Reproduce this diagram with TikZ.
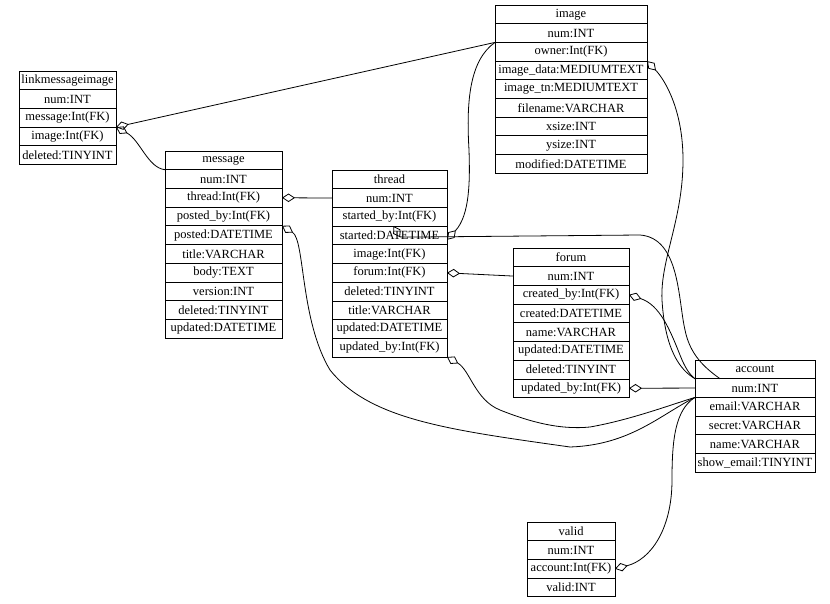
\documentclass[tikz,border=0pt]{standalone}
\usepackage{fontspec}
\setmainfont{Liberation Serif}
\usetikzlibrary{arrows.meta,positioning}

% one box per field, stacked under the title box
\newcommand{\dbtable}[5]{%
  \node[fld, minimum width=#3, anchor=north west] (#1-head) at #2 {#4};
  \foreach \key/\lbl [remember=\key as \prev (initially head)] in {#5} {
    \node[fld, minimum width=#3, below=0pt of #1-\prev] (#1-\key) {\lbl};
  }%
}

\begin{document}
\begin{tikzpicture}[x=1pt, y=-1pt, font=\fontsize{12.5}{14}\selectfont,
    fld/.style={rectangle, draw, line width=0.8pt, minimum height=18.7pt,
                inner sep=1pt, outer sep=0pt},
    fk/.style={line width=0.8pt, {Diamond[open, length=13pt, width=8.5pt]}-}]
\useasboundingbox (0,0) rectangle (830,604);

% tables
\dbtable{lmi}{(19,71)}{97pt}{linkmessageimage}{num/num:INT, message/message:Int(FK),
  image/image:Int(FK), deleted/deleted:TINYINT}
\dbtable{msg}{(165,151)}{117pt}{message}{num/num:INT, thread/thread:Int(FK),
  postedby/posted\_by:Int(FK), posted/posted:DATETIME, title/title:VARCHAR, body/body:TEXT,
  version/version:INT, deleted/deleted:TINYINT, updated/updated:DATETIME}
\dbtable{thr}{(332,170)}{115pt}{thread}{num/num:INT, startedby/started\_by:Int(FK),
  started/started:DATETIME, image/image:Int(FK), forum/forum:Int(FK), deleted/deleted:TINYINT,
  title/title:VARCHAR, updated/updated:DATETIME, updby/updated\_by:Int(FK)}
\dbtable{img}{(495,5)}{152pt}{image}{num/num:INT, owner/owner:Int(FK),
  data/image\_data:MEDIUMTEXT, tn/image\_tn:MEDIUMTEXT, filename/filename:VARCHAR,
  xsize/xsize:INT, ysize/ysize:INT, modified/modified:DATETIME}
\dbtable{frm}{(513,248)}{116pt}{forum}{num/num:INT, createdby/created\_by:Int(FK),
  created/created:DATETIME, name/name:VARCHAR, updated/updated:DATETIME,
  deleted/deleted:TINYINT, updby/updated\_by:Int(FK)}
\dbtable{acc}{(695,360)}{120pt}{account}{num/num:INT, email/email:VARCHAR,
  secret/secret:VARCHAR, name/name:VARCHAR, show/show\_email:TINYINT}
\dbtable{val}{(527,522)}{88pt}{valid}{num/num:INT, account/account:Int(FK), valid/valid:INT}

% foreign keys
\draw[fk] (lmi-image.north east) -- (img-num.south west);
\draw[fk] (lmi-image.north east) .. controls (140,140) and (148,168) .. (msg-num.north west);
\draw[fk] (msg-thread.east) -- (thr-num.west);
\draw[fk] (msg-postedby.south east) .. controls (305,240) and (300,320) .. (330,370)
  .. controls (370,420) and (450,430) .. (570,447)
  .. controls (630,445) and (660,415) .. (acc-num.south west);
\draw[fk] ([xshift=4pt]thr-startedby.south) .. controls (400,237) .. (420,237) -- (640,235)
  .. controls (680,238) and (678,300) .. (685,330)
  .. controls (690,355) and (705,368) .. ([xshift=25pt]acc-num.north west);
\draw[fk] ([yshift=5pt]thr-image.north east) .. controls (470,215) and (470,180) .. (469,150)
  .. controls (466,100) and (470,60) .. (img-num.south west);
\draw[fk] (thr-forum.east) -- (frm-num.west);
\draw[fk] (thr-updby.south east) .. controls (470,370) and (475,400) .. (500,410)
  .. controls (530,422) and (560,430) .. (590,427)
  .. controls (630,420) and (670,405) .. (acc-num.south west);
\draw[fk] (img-owner.south east) .. controls (665,80) and (683,110) .. (683,160)
  .. controls (683,220) and (660,260) .. (662,300)
  .. controls (665,350) and (680,370) .. (acc-num.north west);
\draw[fk] (frm-createdby.east) .. controls (660,305) and (670,330) .. (680,355)
  .. controls (685,368) and (690,375) .. (acc-num.north west);
\draw[fk] (frm-updby.east) -- (acc-num.west);
\draw[fk] (val-account.east) .. controls (650,560) and (672,530) .. (672,480)
  .. controls (672,440) and (675,410) .. (acc-num.south west);
\end{tikzpicture}
\end{document}
